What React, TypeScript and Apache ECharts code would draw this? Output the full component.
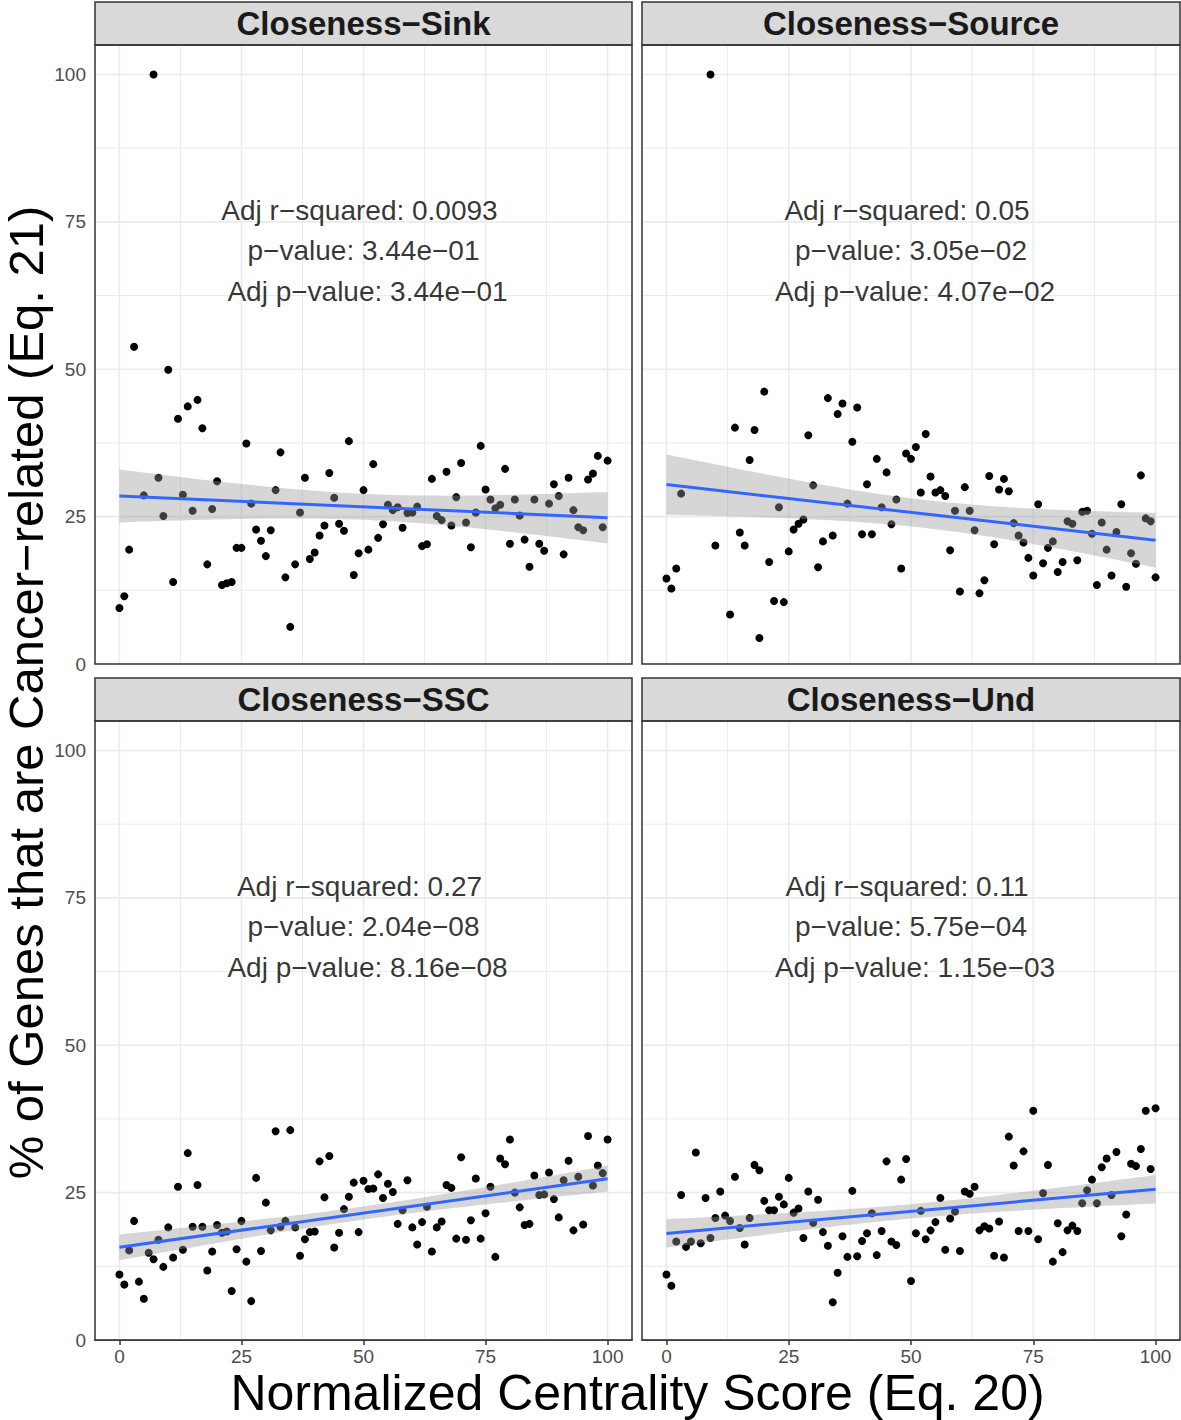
import React, { useEffect, useRef } from "react";
import * as echarts from "echarts";

// ---------------- data ----------------
const PANEL_TITLES = ["Closeness−Sink", "Closeness−Source", "Closeness−SSC", "Closeness−Und"];

const sinkX = [0, 1, 2, 3, 5, 7, 8, 9, 10, 11, 12, 13, 14, 15, 16, 17, 18, 19, 20, 21, 22, 23, 24, 25, 26, 27, 28, 29, 30, 31, 32, 33, 34, 35, 36, 37, 38, 39, 40, 41, 42, 43, 44, 45, 46, 47, 48, 49, 50, 51, 52, 53, 54, 55, 56, 57, 58, 59, 60, 61, 62, 63, 64, 65, 66, 67, 68, 69, 70, 71, 72, 73, 74, 75, 76, 77, 78, 79, 80, 81, 82, 83, 84, 85, 86, 87, 88, 89, 90, 91, 92, 93, 94, 95, 96, 97, 98, 99, 100];
const sinkY = [9.5, 11.5, 19.4, 53.8, 28.6, 100, 31.6, 25.1, 49.9, 13.9, 41.6, 28.7, 43.7, 26.0, 44.8, 40.0, 16.9, 26.3, 31.0, 13.4, 13.7, 13.9, 19.7, 19.7, 37.4, 27.2, 22.8, 20.9, 18.3, 22.7, 29.5, 35.9, 14.7, 6.3, 16.9, 25.7, 31.6, 17.8, 18.9, 21.8, 23.5, 32.4, 28.2, 23.8, 22.6, 37.8, 15.1, 18.8, 29.5, 19.4, 33.9, 21.4, 23.7, 27.0, 26.1, 26.6, 23.1, 25.6, 25.7, 26.7, 20.0, 20.3, 31.4, 25.1, 24.4, 32.6, 23.5, 28.3, 34.1, 24.0, 19.8, 25.7, 37.0, 29.6, 27.9, 26.4, 27.0, 33.1, 20.4, 27.9, 25.2, 21.1, 16.5, 27.9, 20.4, 19.2, 27.2, 30.5, 28.5, 18.6, 31.6, 26.1, 23.2, 22.7, 31.3, 32.3, 35.3, 23.2, 34.5];

const sourceX = [0, 1, 2, 3, 9, 10, 13, 14, 15, 16, 17, 18, 19, 20, 21, 22, 23, 24, 25, 26, 27, 28, 29, 30, 31, 32, 33, 34, 35, 36, 37, 38, 39, 40, 41, 42, 43, 44, 45, 46, 47, 48, 49, 50, 51, 52, 53, 54, 55, 56, 57, 58, 59, 60, 61, 62, 63, 64, 65, 66, 67, 68, 69, 70, 71, 72, 73, 74, 75, 76, 77, 78, 79, 80, 81, 82, 83, 84, 85, 86, 87, 88, 89, 90, 91, 92, 93, 94, 95, 96, 97, 98, 99, 100];
const sourceY = [14.5, 12.8, 16.2, 28.9, 100, 20.1, 8.4, 40.1, 22.3, 20.1, 34.6, 39.7, 4.4, 46.2, 17.3, 10.7, 26.6, 10.5, 19.1, 22.8, 23.8, 24.5, 38.8, 30.3, 16.4, 20.8, 45.1, 21.8, 42.4, 44.2, 27.2, 37.7, 43.5, 22.0, 30.5, 22.0, 34.8, 26.6, 32.5, 23.7, 27.9, 16.2, 35.7, 34.8, 36.8, 29.1, 39.0, 31.8, 29.1, 29.5, 28.5, 19.3, 26.0, 12.3, 30.0, 26.0, 22.7, 12.0, 14.2, 31.9, 20.3, 29.6, 31.4, 29.3, 23.9, 21.8, 20.6, 18.0, 15.0, 27.1, 17.1, 19.7, 20.8, 15.6, 17.3, 24.2, 23.8, 17.6, 25.8, 26.0, 22.1, 13.4, 24.0, 19.4, 15.0, 22.4, 27.1, 13.1, 18.8, 17.0, 32.0, 24.7, 24.2, 14.7];

const sscX = [0, 1, 2, 3, 4, 5, 6, 7, 8, 9, 10, 11, 12, 13, 14, 15, 16, 17, 18, 19, 20, 21, 22, 23, 24, 25, 26, 27, 28, 29, 30, 31, 32, 33, 34, 35, 36, 37, 38, 39, 40, 41, 42, 43, 44, 45, 46, 47, 48, 49, 50, 51, 52, 53, 54, 55, 56, 57, 58, 59, 60, 61, 62, 63, 64, 65, 66, 67, 68, 69, 70, 71, 72, 73, 74, 75, 76, 77, 78, 79, 80, 81, 82, 83, 84, 85, 86, 87, 88, 89, 90, 91, 92, 93, 94, 95, 96, 97, 98, 99, 100];
const sscY = [11.1, 9.4, 15.2, 20.2, 9.9, 7.0, 14.8, 13.7, 17.0, 12.4, 19.1, 14.0, 26.0, 15.3, 31.7, 19.2, 26.3, 19.2, 11.8, 15.0, 19.5, 18.2, 18.4, 8.3, 15.4, 20.2, 13.3, 6.6, 27.5, 15.1, 23.3, 18.6, 35.4, 19.2, 20.2, 35.6, 19.1, 14.3, 17.1, 18.3, 18.4, 30.3, 24.2, 31.2, 15.7, 18.2, 22.2, 24.3, 26.7, 18.3, 27.0, 25.6, 25.7, 28.1, 24.1, 26.5, 25.1, 19.7, 22.0, 27.1, 19.1, 16.2, 20.0, 22.6, 15.0, 19.1, 20.1, 26.3, 25.8, 17.2, 31.0, 17.0, 20.3, 27.4, 17.2, 21.5, 26.0, 14.1, 30.8, 29.8, 34.0, 25.0, 22.5, 19.5, 19.7, 27.9, 24.6, 24.7, 28.4, 23.9, 20.8, 27.1, 30.4, 18.6, 27.7, 19.6, 34.6, 26.2, 29.6, 28.3, 34.0];

const undX = [0, 1, 2, 3, 4, 5, 6, 7, 8, 9, 10, 11, 12, 13, 14, 15, 16, 17, 18, 19, 20, 21, 22, 23, 24, 25, 26, 27, 28, 29, 30, 31, 32, 33, 34, 35, 36, 37, 38, 39, 40, 41, 42, 43, 44, 45, 46, 47, 48, 49, 50, 51, 52, 53, 54, 55, 56, 57, 58, 59, 60, 61, 62, 63, 64, 65, 66, 67, 68, 69, 70, 71, 72, 73, 74, 75, 76, 77, 78, 79, 80, 81, 82, 83, 84, 85, 86, 87, 88, 89, 90, 91, 92, 93, 94, 95, 96, 97, 98, 99, 100];
const undY = [11.1, 9.2, 16.7, 24.6, 15.8, 16.7, 31.8, 16.4, 24.1, 17.3, 20.7, 25.2, 21.1, 20.2, 27.7, 19.0, 16.2, 20.7, 29.7, 28.8, 23.6, 22.0, 22.0, 24.3, 23.0, 27.5, 21.6, 22.3, 17.3, 25.2, 19.9, 23.8, 18.3, 16.0, 6.4, 11.4, 17.6, 14.1, 25.3, 14.2, 16.8, 18.1, 21.5, 14.4, 18.5, 30.3, 16.7, 16.1, 27.2, 30.7, 10.0, 18.1, 21.9, 17.1, 18.6, 20.0, 24.1, 15.3, 20.6, 21.8, 15.1, 25.2, 24.8, 26.0, 18.6, 19.3, 18.9, 14.3, 20.1, 14.0, 34.5, 29.6, 18.5, 32.0, 18.5, 38.9, 17.1, 24.9, 29.7, 13.3, 19.8, 14.9, 18.6, 19.4, 18.5, 23.2, 25.4, 27.2, 23.2, 29.3, 30.8, 24.6, 31.9, 17.6, 21.3, 29.9, 29.5, 32.4, 38.9, 29.0, 39.3];

const STATS = [
  ["Adj r−squared: 0.0093", "p−value: 3.44e−01", "Adj p−value: 3.44e−01"],
  ["Adj r−squared: 0.05", "p−value: 3.05e−02", "Adj p−value: 4.07e−02"],
  ["Adj r−squared: 0.27", "p−value: 2.04e−08", "Adj p−value: 8.16e−08"],
  ["Adj r−squared: 0.11", "p−value: 5.75e−04", "Adj p−value: 1.15e−03"],
];
const STATS_Y = [77, 70.1, 63.2];
const STATS_X = 50;

const X_TICKS = [0, 25, 50, 75, 100];
const Y_TICKS = [0, 25, 50, 75, 100];
const GRID_VALUES = [0, 12.5, 25, 37.5, 50, 62.5, 75, 87.5, 100];
const X_TITLE = "Normalized Centrality Score (Eq. 20)";
const Y_TITLE = "% of Genes that are Cancer−related (Eq. 21)";

const PANELS = [
  { x: sinkX, y: sinkY },
  { x: sourceX, y: sourceY },
  { x: sscX, y: sscY },
  { x: undX, y: undY },
];

// ---------------- layout ----------------
const FONT = "'Liberation Sans', Arial, Helvetica, sans-serif";
const GRIDS = [
  { left: 95, top: 45, width: 537, height: 619 },
  { left: 642, top: 45, width: 538, height: 619 },
  { left: 95, top: 721, width: 537, height: 619 },
  { left: 642, top: 721, width: 538, height: 619 },
];
const STRIP_H = 43;
const X_MIN = -5, X_MAX = 105, Y_MIN = 0, Y_MAX = 105;
const LABEL_SHIFT = [-4, 0, 4];

function linearFit(xs: number[], ys: number[]) {
  const n = xs.length;
  let sx = 0, sy = 0;
  for (let i = 0; i < n; i++) { sx += xs[i]; sy += ys[i]; }
  const xbar = sx / n, ybar = sy / n;
  let sxx = 0, sxy = 0;
  for (let i = 0; i < n; i++) { sxx += (xs[i] - xbar) ** 2; sxy += (xs[i] - xbar) * (ys[i] - ybar); }
  const b = sxy / sxx;
  const a = ybar - b * xbar;
  let sse = 0;
  for (let i = 0; i < n; i++) sse += (ys[i] - a - b * xs[i]) ** 2;
  const s = Math.sqrt(sse / (n - 2));
  const t = 1.985;
  const xmin = Math.min(...xs), xmax = Math.max(...xs);
  const pts: number[][] = [];
  const steps = 80;
  for (let k = 0; k <= steps; k++) {
    const x = xmin + ((xmax - xmin) * k) / steps;
    const yh = a + b * x;
    const se = s * Math.sqrt(1 / n + (x - xbar) ** 2 / sxx);
    pts.push([x, yh, yh - t * se, yh + t * se]);
  }
  return { a, b, xmin, xmax, pts };
}

export default function App() {
  const ref = useRef<HTMLDivElement>(null);
  useEffect(() => {
    if (!ref.current) return;
    const chart = echarts.init(ref.current, null, { renderer: "svg" });

    const grid: any[] = [];
    const xAxis: any[] = [];
    const yAxis: any[] = [];
    const series: any[] = [];
    const graphic: any[] = [];

    PANELS.forEach((p, i) => {
      const g = GRIDS[i];
      const bottom = i >= 2;
      const left = i % 2 === 0;
      grid.push({ ...g, show: true, backgroundColor: "#ffffff", borderWidth: 0, containLabel: false, outerBoundsMode: "none" });
      xAxis.push({
        gridIndex: i, type: "value", min: X_MIN, max: X_MAX,
        splitLine: { show: false }, minorSplitLine: { show: false },
        axisLine: { show: bottom, lineStyle: { color: "#333333", width: 1.5 } },
        axisTick: { show: bottom, customValues: X_TICKS, length: 5, lineStyle: { color: "#333333", width: 1.5 } },
        axisLabel: { show: bottom, customValues: X_TICKS, fontSize: 19, color: "#4d4d4d", margin: 7, fontFamily: FONT },
      });
      yAxis.push({
        gridIndex: i, type: "value", min: Y_MIN, max: Y_MAX, interval: 25,
        splitLine: { show: false },
        axisLine: { show: false },
        axisTick: { show: false },
        axisLabel: { show: left, customValues: Y_TICKS, fontSize: 19, color: "#4d4d4d", margin: 9, fontFamily: FONT },
      });

      // grid lines
      series.push({
        type: "custom", xAxisIndex: i, yAxisIndex: i, z: 1, silent: true, clip: true,
        data: GRID_VALUES.map((v) => [v, 0]),
        renderItem: (params: any, api: any) => {
          const v = api.value(0);
          const p1 = api.coord([v, Y_MIN]);
          const p2 = api.coord([v, Y_MAX]);
          return { type: "line", shape: { x1: p1[0], y1: p1[1], x2: p2[0], y2: p2[1] },
            style: { stroke: "#ebebeb", lineWidth: v % 25 === 0 ? 1.6 : 1.0 } };
        },
      });
      series.push({
        type: "custom", xAxisIndex: i, yAxisIndex: i, z: 1, silent: true, clip: true,
        data: GRID_VALUES.map((v) => [0, v]),
        renderItem: (params: any, api: any) => {
          const v = api.value(1);
          const p1 = api.coord([X_MIN, v]);
          const p2 = api.coord([X_MAX, v]);
          return { type: "line", shape: { x1: p1[0], y1: p1[1], x2: p2[0], y2: p2[1] },
            style: { stroke: "#ebebeb", lineWidth: v % 25 === 0 ? 1.6 : 1.0 } };
        },
      });

      // points
      series.push({
        type: "scatter", xAxisIndex: i, yAxisIndex: i, z: 3, silent: true,
        symbol: "circle", symbolSize: 8,
        itemStyle: { color: "#000000", opacity: 1 },
        data: p.x.map((x, k) => [x, p.y[k]]),
      });

      // fit + confidence band
      const fit = linearFit(p.x, p.y);
      series.push({
        type: "custom", xAxisIndex: i, yAxisIndex: i, z: 4, silent: true, clip: true,
        data: [[0, 0]],
        renderItem: (params: any, api: any) => {
          const upper = fit.pts.map((q) => api.coord([q[0], q[3]]));
          const lower = fit.pts.slice().reverse().map((q) => api.coord([q[0], q[2]]));
          return { type: "polygon", shape: { points: upper.concat(lower) },
            style: { fill: "rgba(153,153,153,0.4)", stroke: "none" } };
        },
      });
      series.push({
        type: "line", xAxisIndex: i, yAxisIndex: i, z: 5, silent: true,
        showSymbol: false, symbol: "none",
        lineStyle: { color: "#3366FF", width: 3 },
        data: [[fit.xmin, fit.a + fit.b * fit.xmin], [fit.xmax, fit.a + fit.b * fit.xmax]],
      });

      // annotation
      series.push({
        type: "scatter", xAxisIndex: i, yAxisIndex: i, z: 6, silent: true,
        symbolSize: 0,
        data: STATS[i].map((t, k) => ({
          value: [STATS_X, STATS_Y[k]],
          label: { show: true, position: "inside", formatter: t, offset: [LABEL_SHIFT[k], 0],
            fontSize: 28, color: "#000000", fontFamily: FONT },
        })),
      });

      // strip
      graphic.push({
        type: "rect", z: 50,
        shape: { x: g.left, y: g.top - STRIP_H, width: g.width, height: STRIP_H },
        style: { fill: "#d9d9d9", stroke: "#333333", lineWidth: 1.5 },
      });
      graphic.push({
        type: "text", z: 51,
        x: g.left + g.width / 2, y: g.top - STRIP_H / 2,
        style: { text: PANEL_TITLES[i], fontSize: 33, fontWeight: "bold", fill: "#1a1a1a",
          fontFamily: FONT, align: "center", verticalAlign: "middle" },
      });
      // panel border
      graphic.push({
        type: "rect", z: 50,
        shape: { x: g.left, y: g.top, width: g.width, height: g.height },
        style: { fill: "none", stroke: "#333333", lineWidth: 1.5 },
      });
    });

    graphic.push({
      type: "text", z: 51, x: 637.5, y: 1393,
      style: { text: X_TITLE, fontSize: 50, fill: "#000000", fontFamily: FONT, align: "center", verticalAlign: "middle" },
    });
    graphic.push({
      type: "text", z: 51, x: 26, y: 692.5, rotation: Math.PI / 2,
      style: { text: Y_TITLE, fontSize: 49, fill: "#000000", fontFamily: FONT, align: "center", verticalAlign: "middle" },
    });

    chart.setOption({
      animation: false,
      backgroundColor: "#ffffff",
      textStyle: { fontFamily: FONT },
      grid, xAxis, yAxis, series, graphic,
    });
    return () => chart.dispose();
  }, []);
  return <div ref={ref} style={{ position: "absolute", left: 0, top: 0, width: 1181, height: 1420 }} />;
}
